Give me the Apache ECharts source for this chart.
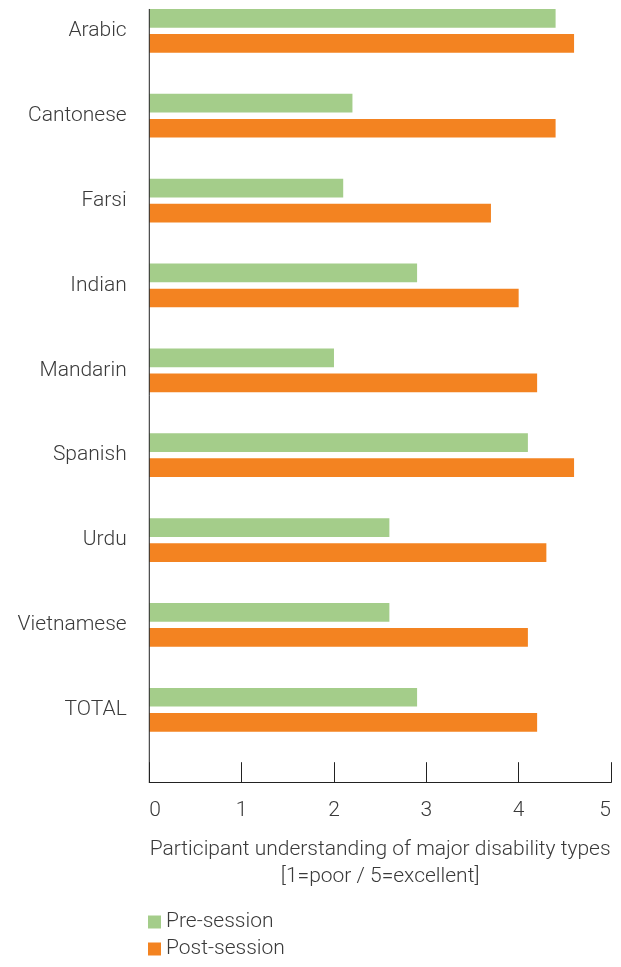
<!DOCTYPE html>
<html>
<head>
<meta charset="utf-8">
<title>Participant understanding of major disability types</title>
<script src="https://cdn.jsdelivr.net/npm/echarts@6/dist/echarts.min.js"></script>
<style>
  html, body { margin: 0; padding: 0; background: #fff; }
  #chart { width: 621px; height: 967px; }
</style>
</head>
<body>
<div id="chart"></div>
<script>
// Language groups, top to bottom
const languages = ['Arabic', 'Cantonese', 'Farsi', 'Indian', 'Mandarin', 'Spanish', 'Urdu', 'Vietnamese', 'TOTAL'];
// Mean self-rated understanding (1 = poor, 5 = excellent)
const preSession  = [4.4, 2.2, 2.1, 2.9, 2.0, 4.1, 2.6, 2.6, 2.9];
const postSession = [4.6, 4.4, 3.7, 4.0, 4.2, 4.6, 4.3, 4.1, 4.2];
const seriesNames = ['Pre-session', 'Post-session'];
const xTicks = [0, 1, 2, 3, 4, 5];

const FONT = 'Roboto, "Liberation Sans", Arial, sans-serif';
const TEXT = '#3a3a3a';
const AXIS = '#222222';
const GREEN = '#a4cd8a';
const ORANGE = '#f38321';
const FS = 21;

const BAR_W = 18.7;
const GAP_PCT = '34%';
// Category centres sit on the grid edges (boundaryGap: false), so the
// value axis is pushed further down with an offset.
const GRID = { left: 149.3, right: 10, top: 30.85, bottom: 257.2 };
const AXIS_OFFSET = 72.9;

const chart = echarts.init(document.getElementById('chart'), null, { renderer: 'canvas' });

// One legend block per series, stacked vertically
function legendBlock(name, top) {
  return {
    orient: 'vertical',
    left: 148,
    top: top,
    padding: 0,
    itemWidth: 13,
    itemHeight: 13,
    itemGap: 0,
    icon: 'rect',
    textStyle: { fontFamily: FONT, fontSize: FS, fontWeight: 300, color: TEXT },
    data: [name]
  };
}

chart.setOption({
  animation: false,
  backgroundColor: '#ffffff',
  textStyle: { fontFamily: FONT, color: TEXT },
  grid: { left: GRID.left, right: GRID.right, top: GRID.top, bottom: GRID.bottom, containLabel: false },
  legend: [legendBlock(seriesNames[0], 911.5), legendBlock(seriesNames[1], 938.5)],
  xAxis: {
    type: 'value',
    min: xTicks[0],
    max: xTicks[xTicks.length - 1],
    interval: 1,
    position: 'bottom',
    offset: AXIS_OFFSET,
    name: 'Participant understanding of major disability types\n[1=poor / 5=excellent]',
    nameLocation: 'middle',
    nameGap: 54,
    nameTextStyle: {
      fontFamily: FONT, fontSize: FS, fontWeight: 300, color: TEXT,
      lineHeight: 27, verticalAlign: 'top', align: 'center'
    },
    axisLine: { show: true, lineStyle: { color: AXIS, width: 1 } },
    axisTick: { show: true, inside: true, length: 20.5, lineStyle: { color: AXIS, width: 1 } },
    axisLabel: {
      fontFamily: FONT, fontSize: FS, fontWeight: 300, color: TEXT, margin: 18,
      alignMinLabel: 'left', alignMaxLabel: 'right'
    },
    splitLine: { show: false }
  },
  yAxis: {
    type: 'category',
    inverse: true,
    boundaryGap: false,
    data: languages,
    axisLine: { show: false },
    axisTick: { show: false },
    axisLabel: {
      fontFamily: FONT, fontSize: FS, fontWeight: 300, color: TEXT,
      margin: 22.6, padding: [0, 0, 10, 0]
    }
  },
  series: [
    {
      name: seriesNames[0],
      type: 'bar',
      data: preSession,
      barWidth: BAR_W,
      barGap: GAP_PCT,
      itemStyle: { color: GREEN },
      silent: true
    },
    {
      name: seriesNames[1],
      type: 'bar',
      data: postSession,
      barWidth: BAR_W,
      barGap: GAP_PCT,
      itemStyle: { color: ORANGE },
      silent: true
    }
  ]
});

// Vertical axis line: from the top of the first bar pair down to the value axis line
(function drawCategoryAxisLine() {
  const firstCenter = chart.convertToPixel({ yAxisIndex: 0 }, languages[0]);
  const pairHalf = BAR_W + (BAR_W * parseFloat(GAP_PCT) / 100) / 2;
  const x0 = chart.convertToPixel({ xAxisIndex: 0 }, xTicks[0]);
  const yTop = firstCenter - pairHalf;
  const yBottom = chart.getHeight() - GRID.bottom + AXIS_OFFSET;
  chart.setOption({
    graphic: [{
      type: 'line',
      silent: true,
      z: 10,
      shape: { x1: x0, y1: yTop, x2: x0, y2: yBottom },
      style: { stroke: AXIS, lineWidth: 1 }
    }]
  });
})();
</script>
</body>
</html>
